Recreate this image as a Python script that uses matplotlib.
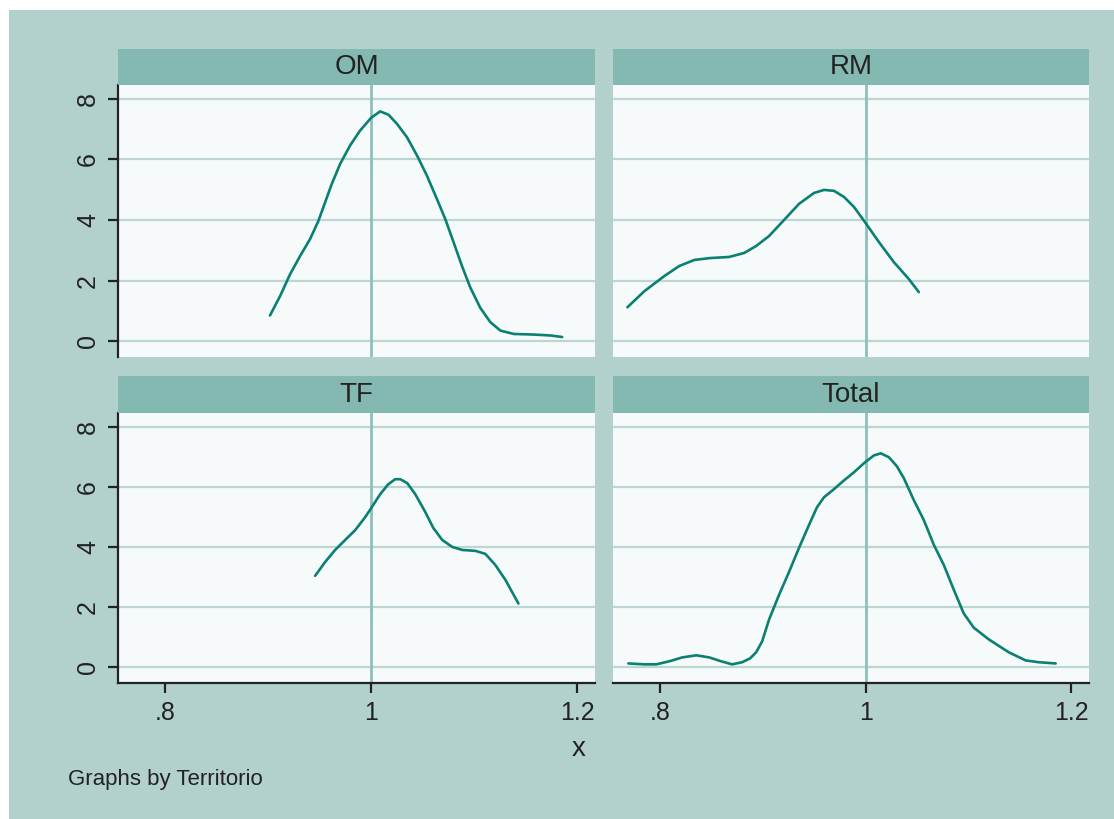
import matplotlib
matplotlib.use("Agg")
import matplotlib.pyplot as plt
from matplotlib.patches import Rectangle

plt.rcParams["font.family"] = ["Liberation Sans", "DejaVu Sans"]

# Data
om_x = [0.9018, 0.9116, 0.9213, 0.9310, 0.9407, 0.9488, 0.9553, 0.9618, 0.9699, 0.9796,
        0.9893, 1.0000, 1.0087, 1.0168, 1.0250, 1.0347, 1.0444, 1.0541, 1.0638, 1.0719,
        1.0800, 1.0881, 1.0962, 1.1059, 1.1156, 1.1254, 1.1383, 1.1577, 1.1740, 1.1853]
om_y = [0.85, 1.49, 2.21, 2.81, 3.37, 3.97, 4.58, 5.19, 5.85, 6.46,
        6.95, 7.37, 7.58, 7.47, 7.17, 6.73, 6.13, 5.46, 4.69, 4.03,
        3.26, 2.48, 1.77, 1.10, 0.63, 0.35, 0.24, 0.22, 0.19, 0.14]

rm_x = [0.7683, 0.7848, 0.8042, 0.8187, 0.8333, 0.8479, 0.8673, 0.8818, 0.8935, 0.9061,
        0.9207, 0.9352, 0.9498, 0.9595, 0.9692, 0.9789, 0.9886, 0.9993, 1.0129, 1.0274,
        1.0420, 1.0517]
rm_y = [1.12, 1.65, 2.15, 2.48, 2.68, 2.74, 2.78, 2.91, 3.14, 3.47,
        4.00, 4.53, 4.89, 4.99, 4.96, 4.76, 4.43, 3.93, 3.27, 2.61,
        2.05, 1.62]

tf_x = [0.9456, 0.9553, 0.9650, 0.9747, 0.9845, 0.9942, 1.0000, 1.0087, 1.0165, 1.0233,
        1.0282, 1.0350, 1.0428, 1.0525, 1.0603, 1.0690, 1.0787, 1.0884, 1.1011, 1.1108,
        1.1205, 1.1302, 1.1429]
tf_y = [3.04, 3.50, 3.90, 4.23, 4.56, 4.99, 5.29, 5.75, 6.08, 6.25,
        6.25, 6.12, 5.75, 5.16, 4.63, 4.23, 4.00, 3.90, 3.87, 3.77,
        3.40, 2.91, 2.12]

tot_x = [0.7692, 0.7847, 0.7964, 0.8090, 0.8216, 0.8353, 0.8479, 0.8595, 0.8702, 0.8799,
         0.8877, 0.8935, 0.8993, 0.9061, 0.9158, 0.9255, 0.9352, 0.9449, 0.9527, 0.9595,
         0.9692, 0.9789, 0.9886, 0.9993, 1.0080, 1.0148, 1.0226, 1.0304, 1.0372, 1.0469,
         1.0566, 1.0663, 1.0760, 1.0857, 1.0954, 1.1051, 1.1197, 1.1392, 1.1556, 1.1683,
         1.1848]
tot_y = [0.13, 0.10, 0.10, 0.20, 0.33, 0.40, 0.33, 0.20, 0.10, 0.17,
         0.30, 0.50, 0.86, 1.59, 2.41, 3.17, 3.97, 4.73, 5.32, 5.65,
         5.92, 6.21, 6.48, 6.81, 7.04, 7.11, 6.98, 6.68, 6.28, 5.55,
         4.89, 4.07, 3.40, 2.58, 1.79, 1.32, 0.93, 0.50, 0.23, 0.17,
         0.13]

panels = ["OM", "RM", "TF", "Total"]
curves = {"OM": (om_x, om_y), "RM": (rm_x, rm_y),
          "TF": (tf_x, tf_y), "Total": (tot_x, tot_y)}
x_ticks = [0.8, 1.0, 1.2]
x_ticklabels = [".8", "1", "1.2"]
y_ticks = [0, 2, 4, 6, 8]
ref_x = 1.0

# Colors
BG = "#b3d1cc"
STRIP = "#84b9b2"
PLOTBG = "#f7fafa"
GRID = "#bad7d2"
VLINE = "#8cc1ba"
LINE = "#0a8072"
TXT = "#222222"

W, H = 1114, 819
fig = plt.figure(figsize=(W / 100, H / 100), dpi=100)
fig.patch.set_facecolor("white")
fig.patches.append(Rectangle((9 / W, 0), 1, 1 - 10 / H, transform=fig.transFigure,
                             facecolor=BG, edgecolor="none", zorder=-10))

# pixel boxes (left, top, right, bottom)
boxes = {
    "OM": (118, 85, 595, 357),
    "RM": (613, 85, 1089, 357),
    "TF": (118, 413, 595, 683),
    "Total": (613, 413, 1089, 683),
}
strip_top = {"OM": 49, "RM": 49, "TF": 376, "Total": 376}


def fig_rect(l, t, r, b):
    return [l / W, 1 - b / H, (r - l) / W, (b - t) / H]


for name in panels:
    l, t, r, b = boxes[name]
    ax = fig.add_axes(fig_rect(l, t, r, b))
    ax.set_facecolor(PLOTBG)

    xs, ys = curves[name]
    for yt in y_ticks:
        ax.axhline(yt, color=GRID, lw=1.6, zorder=1)
    ax.axvline(ref_x, color=VLINE, lw=2, zorder=2)
    ax.plot(xs, ys, color=LINE, lw=1.9, zorder=3,
            solid_joinstyle="round", solid_capstyle="round")

    ax.set_xlim(0.7543, 1.2172)
    ax.set_ylim(-0.52, 8.45)

    left = name in ("OM", "TF")
    bottom = name in ("TF", "Total")
    for s in ["top", "right"]:
        ax.spines[s].set_visible(False)
    ax.spines["left"].set_visible(left)
    ax.spines["bottom"].set_visible(bottom)
    for s in ["left", "bottom"]:
        ax.spines[s].set_linewidth(1.6)
        ax.spines[s].set_color(TXT)

    ax.set_yticks(y_ticks)
    if left:
        ax.set_yticklabels([str(v) for v in y_ticks], rotation=90, va="center",
                           fontsize=18, color=TXT)
        ax.tick_params(axis="y", length=7, width=1.6, pad=6, color=TXT)
    else:
        ax.tick_params(axis="y", left=False, labelleft=False)

    ax.set_xticks(x_ticks)
    if bottom:
        ax.set_xticklabels(x_ticklabels, fontsize=18, color=TXT)
        ax.tick_params(axis="x", length=7, width=1.6, pad=6, color=TXT)
    else:
        ax.tick_params(axis="x", bottom=False, labelbottom=False)

    # strip title
    st = strip_top[name]
    fig.patches.append(Rectangle((l / W, 1 - t / H), (r - l) / W, (t - st) / H,
                                 transform=fig.transFigure, facecolor=STRIP,
                                 edgecolor="none", zorder=1))
    fig.text((l + r) / 2 / W, 1 - (st + t) / 2 / H, name, ha="center",
             va="center", fontsize=20, color=TXT)

fig.text(579 / W, 1 - 749 / H, "x", ha="center", va="center", fontsize=20, color=TXT)
fig.text(68 / W, 1 - 780 / H, "Graphs by Territorio", ha="left", va="center",
         fontsize=16, color=TXT)

fig.savefig("out.png", dpi=100, facecolor=fig.get_facecolor())
